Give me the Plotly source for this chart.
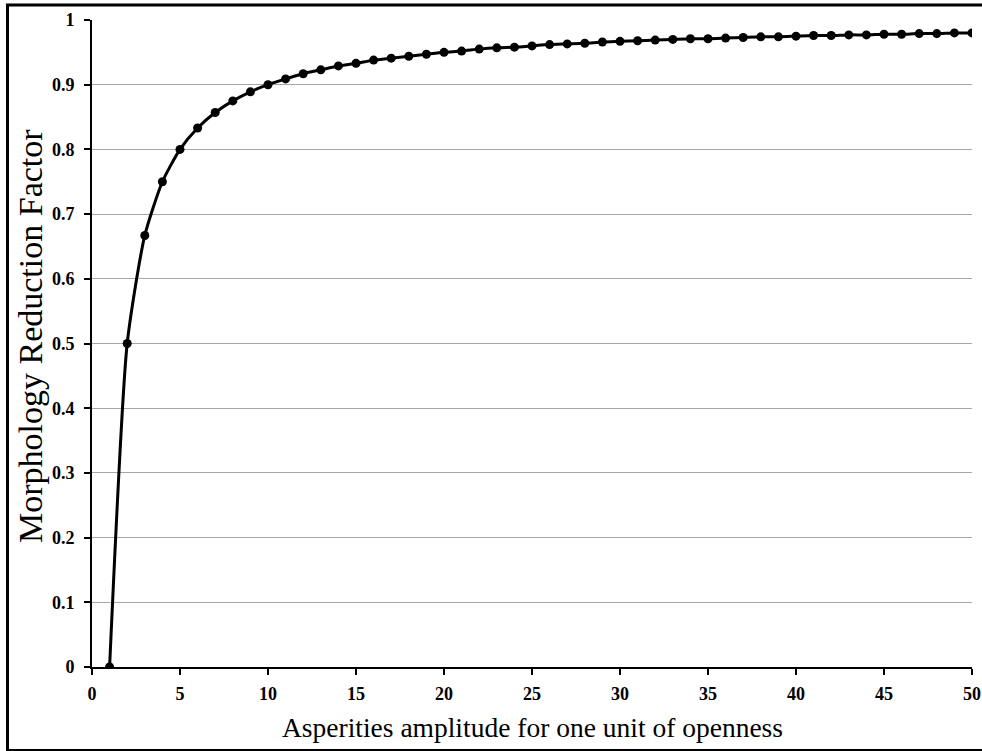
import plotly.graph_objects as go

x_vals = list(range(1, 51))
y_vals = [0.0, 0.5, 0.667, 0.75, 0.8, 0.833, 0.857, 0.875, 0.889, 0.9,
          0.909, 0.917, 0.923, 0.929, 0.933, 0.938, 0.941, 0.944, 0.947, 0.95,
          0.952, 0.955, 0.957, 0.958, 0.96, 0.962, 0.963, 0.964, 0.966, 0.967,
          0.968, 0.969, 0.97, 0.971, 0.971, 0.972, 0.973, 0.974, 0.974, 0.975,
          0.976, 0.976, 0.977, 0.977, 0.978, 0.978, 0.979, 0.979, 0.98, 0.98]

x_title = "Asperities amplitude for one unit of openness"
y_title = "Morphology Reduction Factor"

W, H = 982, 751
ml, mr, mt, mb = 92, 10, 20, 84
pw, ph = W - ml - mr, H - mt - mb


def px_to_paper_x(px):
    return (px - ml) / pw


def px_to_paper_y(py):
    return (H - mb - py) / ph


fig = go.Figure()
fig.add_trace(go.Scatter(
    x=x_vals, y=y_vals, mode="lines+markers",
    line=dict(color="black", width=3, shape="spline", smoothing=0.6),
    marker=dict(color="black", size=9),
    showlegend=False, hoverinfo="x+y"))

tickfont = dict(family="Liberation Serif", size=18, color="black", weight="bold")
fig.update_layout(
    width=W, height=H,
    margin=dict(l=ml, r=mr, t=mt, b=mb, pad=0, autoexpand=False),
    paper_bgcolor="white", plot_bgcolor="white",
    xaxis=dict(range=[0, 50], tickmode="linear", tick0=0, dtick=5,
               showgrid=False, zeroline=False, showline=True,
               linecolor="black", linewidth=2, ticks="outside",
               ticklen=6, tickwidth=2, tickcolor="black",
               ticklabelstandoff=3,
               tickfont=tickfont, automargin=False),
    yaxis=dict(range=[0, 1], tickmode="linear", tick0=0, dtick=0.1,
               showgrid=True, gridcolor="#a6a6a6", gridwidth=1,
               zeroline=False, showline=True,
               linecolor="black", linewidth=2, ticks="outside",
               ticklen=6, tickwidth=2, tickcolor="black",
               ticklabelstandoff=6,
               tickfont=tickfont, automargin=False),
    font=dict(family="Liberation Serif", color="black"),
)

fig.add_annotation(text=x_title, xref="paper", yref="paper",
                   x=px_to_paper_x(532), y=px_to_paper_y(728),
                   xanchor="center", yanchor="middle", showarrow=False,
                   font=dict(family="Liberation Serif", size=27.5, color="black"))
fig.add_annotation(text=y_title, xref="paper", yref="paper",
                   x=px_to_paper_x(30), y=px_to_paper_y(336),
                   xanchor="center", yanchor="middle", showarrow=False,
                   textangle=-90,
                   font=dict(family="Liberation Serif", size=34, color="black"))

# outer frame
fig.add_shape(type="rect", xref="paper", yref="paper",
              x0=px_to_paper_x(7.5), x1=px_to_paper_x(995),
              y0=px_to_paper_y(750.5), y1=px_to_paper_y(5),
              line=dict(color="black", width=3), fillcolor="rgba(0,0,0,0)",
              layer="above")

fig.write_html("out.html")
